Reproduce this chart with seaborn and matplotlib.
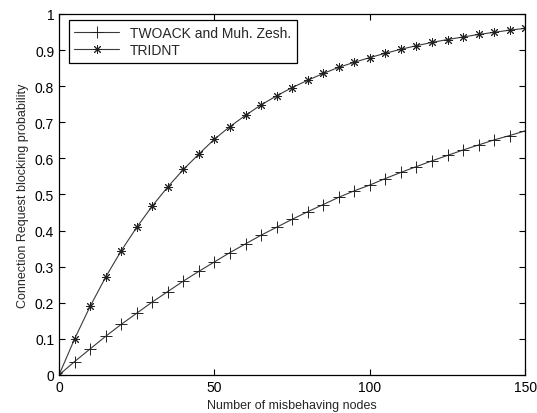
import numpy as np
import pandas as pd
import seaborn as sns
import matplotlib.pyplot as plt
from matplotlib.ticker import FuncFormatter

# values
nodes = list(range(0, 155, 5))
twoack = [0.0, 0.037, 0.072, 0.107, 0.140, 0.171, 0.202, 0.231, 0.260, 0.287,
          0.313, 0.339, 0.363, 0.387, 0.409, 0.431, 0.452, 0.472, 0.492, 0.510,
          0.526, 0.544, 0.561, 0.577, 0.593, 0.608, 0.623, 0.637, 0.651, 0.663, 0.676]
tridnt = [0.0, 0.100, 0.190, 0.271, 0.344, 0.409, 0.468, 0.521, 0.569, 0.612,
          0.653, 0.688, 0.719, 0.748, 0.773, 0.796, 0.816, 0.835, 0.852, 0.866,
          0.879, 0.891, 0.902, 0.912, 0.921, 0.929, 0.936, 0.943, 0.949, 0.955, 0.960]
series_names = ["TWOACK and Muh. Zesh.", "TRIDNT"]

df = pd.DataFrame({
    "nodes": nodes * 2,
    "prob": twoack + tridnt,
    "scheme": [series_names[0]] * len(nodes) + [series_names[1]] * len(nodes),
})

sns.set_style("ticks")
plt.rcParams["font.family"] = ["Liberation Sans", "DejaVu Sans"]
plt.rcParams["font.size"] = 10

fig = plt.figure(figsize=(5.37, 4.14), dpi=100)
ax = fig.add_axes([0.110, 0.092, 0.868, 0.872])

markers = {series_names[0]: "+", series_names[1]: (8, 2, 0)}
sizes = {series_names[0]: 8, series_names[1]: 6.5}
for name in series_names:
    sub = df[df["scheme"] == name]
    sns.lineplot(data=sub, x="nodes", y="prob", ax=ax, color="#3a3a3a",
                 linewidth=0.8, marker=markers[name], markersize=sizes[name],
                 markeredgewidth=0.7, markeredgecolor="#222222", label=name)

ax.set_xlim(0, 150)
ax.set_ylim(0, 1)
ax.set_xticks([0, 50, 100, 150])
ax.set_yticks(np.arange(0, 1.01, 0.1))
ax.yaxis.set_major_formatter(FuncFormatter(lambda v, p: f"{v:g}"))
ax.set_xlabel("Number of misbehaving nodes", fontsize=9)
ax.set_ylabel("Connection Request blocking probability", fontsize=9)
ax.tick_params(direction="in", length=4, top=True, right=True, labelsize=10,
               width=0.8, colors="black")
for s in ax.spines.values():
    s.set_visible(True)
    s.set_linewidth(0.9)
    s.set_color("black")

leg = ax.legend(loc="upper left", bbox_to_anchor=(0.015, 0.99), fancybox=False,
                framealpha=1, edgecolor="black", handlelength=3.2,
                borderaxespad=0.2, fontsize=10, labelspacing=0.25)
leg.get_frame().set_linewidth(0.9)

fig.savefig("out.png", dpi=100)
